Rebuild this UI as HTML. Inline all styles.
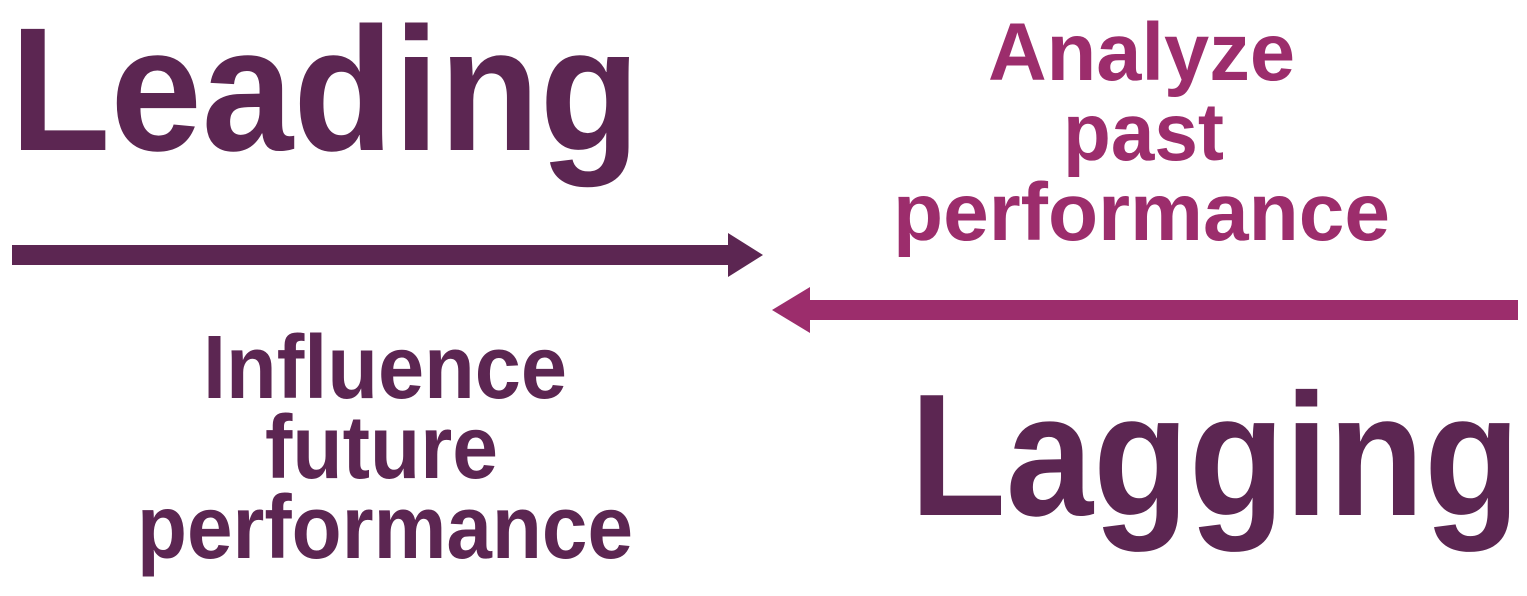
<!DOCTYPE html>
<html><head><meta charset="utf-8"><style>
html,body{margin:0;padding:0;background:#fff;}
svg{display:block;}
text{font-family:"Liberation Sans",sans-serif;font-weight:bold;}
</style></head><body>
<svg width="1527" height="596" viewBox="0 0 1527 596" xmlns="http://www.w3.org/2000/svg">
<rect width="1527" height="596" fill="#fff"/>
<g fill="#5c2652">
<text x="10" y="150" font-size="176" textLength="630" lengthAdjust="spacingAndGlyphs">Leading</text>
<text x="910" y="515" font-size="174" textLength="610" lengthAdjust="spacingAndGlyphs">Lagging</text>
<text x="203" y="398" font-size="90" textLength="364" lengthAdjust="spacingAndGlyphs">Influence</text>
<text x="265" y="478" font-size="90" textLength="233" lengthAdjust="spacingAndGlyphs">future</text>
<text x="137" y="558" font-size="90" textLength="496" lengthAdjust="spacingAndGlyphs">performance</text>
<rect x="12" y="245" width="722" height="20"/>
<polygon points="728,233 763,255 728,277"/>
</g>
<g fill="#9c2d6c">
<text x="988" y="80" font-size="82" textLength="307" lengthAdjust="spacingAndGlyphs">Analyze</text>
<text x="1063" y="160" font-size="82" textLength="161" lengthAdjust="spacingAndGlyphs">past</text>
<text x="893" y="240" font-size="82" textLength="497" lengthAdjust="spacingAndGlyphs">performance</text>
<rect x="804" y="300" width="714" height="20"/>
<polygon points="810,287 772,310 810,333"/>
</g>
</svg>
</body></html>
